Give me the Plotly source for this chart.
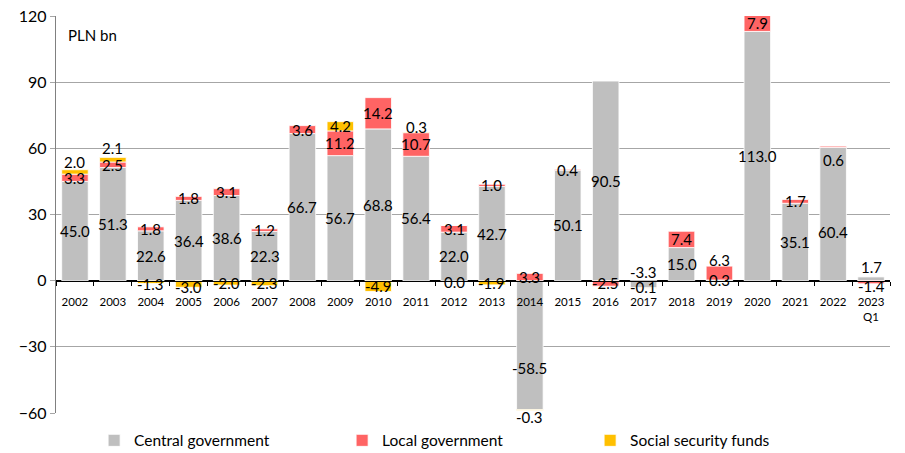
import plotly.graph_objects as go

# General government balance by sub-sector, PLN bn
years = ["2002", "2003", "2004", "2005", "2006", "2007", "2008", "2009", "2010",
         "2011", "2012", "2013", "2014", "2015", "2016", "2017", "2018", "2019",
         "2020", "2021", "2022", "2023<br>Q1"]

central_gov = [45.0, 51.3, 22.6, 36.4, 38.6, 22.3, 66.7, 56.7, 68.8, 56.4, 22.0, 42.7,
               -58.5, 50.1, 90.5, -3.3, 15.0, 0.3, 113.0, 35.1, 60.4, 1.7]
local_gov = [3.3, 2.5, 1.8, 1.8, 3.1, 1.2, 3.6, 11.2, 14.2, 10.7, 3.1, 1.0,
             3.3, 0.4, -2.5, None, 7.4, 6.3, 7.9, 1.7, 0.6, -1.4]
social_sec = [2.0, 2.1, -1.3, -3.0, -2.0, -2.3, None, 4.2, -4.9, 0.3, 0.0, -1.9,
              -0.3, None, None, -0.1, None, None, None, None, None, None]

series_names = ["Central government", "Local government", "Social security funds"]
series_colors = ["#BFBFBF", "#FF6464", "#FFC000"]
series_values = [central_gov, local_gov, social_sec]

# label nudges (px, upward) for labels that would collide with neighbours
label_shift = {
    (2, 0): 10, (2, 1): 12, (2, 9): 5, (0, 12): -23, (2, 12): -7,
    (0, 15): 12, (1, 17): 13, (0, 20): -18, (1, 20): -13, (0, 21): 12,
    (1, 21): -4, (2, 3): -3, (2, 2): -2, (2, 10): -1, (2, 15): 1,
}

FONT = "Lato, 'Open Sans', sans-serif"

fig = go.Figure()
for name, color, vals in zip(series_names, series_colors, series_values):
    fig.add_trace(go.Bar(
        x=years, y=vals, name=name,
        marker=dict(color=color, line=dict(color="white", width=0.8)),
    ))

# data labels at the centre of each stacked segment (zero values sit on the axis)
annotations = []
pos_base = [0.0] * len(years)
neg_base = [0.0] * len(years)
for s, vals in enumerate(series_values):
    for i, v in enumerate(vals):
        if v is None:
            continue
        if v > 0:
            centre = pos_base[i] + v / 2
            pos_base[i] += v
        else:
            centre = neg_base[i] + v / 2
            neg_base[i] += v
        annotations.append(dict(
            x=i, y=centre, xref="x", yref="y", text=f"{v:.1f}",
            showarrow=False, font=dict(family=FONT, size=15, color="#000000"),
            yshift=label_shift.get((s, i), 0),
        ))

annotations.append(dict(
    x=0.012, y=0.952, xref="paper", yref="paper", text="PLN bn",
    xanchor="left", yanchor="middle", showarrow=False,
    font=dict(family=FONT, size=15, color="#000000"),
))

fig.update_layout(
    width=905, height=453,
    margin=dict(l=56, r=15, t=16, b=40, autoexpand=False),
    barmode="relative", bargap=0.3,
    plot_bgcolor="white", paper_bgcolor="white",
    font=dict(family=FONT, color="#000000"),
    annotations=annotations,
    showlegend=True,
    legend=dict(
        orientation="h", xref="container", yref="container",
        x=0.104, y=0.027, xanchor="left", yanchor="middle",
        font=dict(family=FONT, size=15.5, color="#000000"),
        entrywidth=203, entrywidthmode="pixels", traceorder="normal",
        bgcolor="rgba(0,0,0,0)",
    ),
    xaxis=dict(
        type="category", categoryorder="array", categoryarray=years,
        range=[-0.5, len(years) - 0.5], autorange=False,
        anchor="free", position=1 / 3,
        showline=True, linecolor="#000000", linewidth=1,
        ticks="outside", tickson="boundaries", ticklen=4, tickcolor="#000000",
        tickfont=dict(family=FONT, size=11.5, color="#000000"),
        ticklabelstandoff=11, tickangle=0, showgrid=False,
    ),
    yaxis=dict(
        range=[-60, 120], dtick=30, tick0=0,
        showgrid=True, gridcolor="#A6A6A6", gridwidth=1.3,
        zeroline=True, zerolinecolor="#000000", zerolinewidth=1.2,
        showline=True, linecolor="#808080", linewidth=1.3,
        ticks="outside", ticklen=5, tickcolor="#A6A6A6",
        tickfont=dict(family=FONT, size=16, color="#000000"),
    ),
)

fig.write_html("out.html")
